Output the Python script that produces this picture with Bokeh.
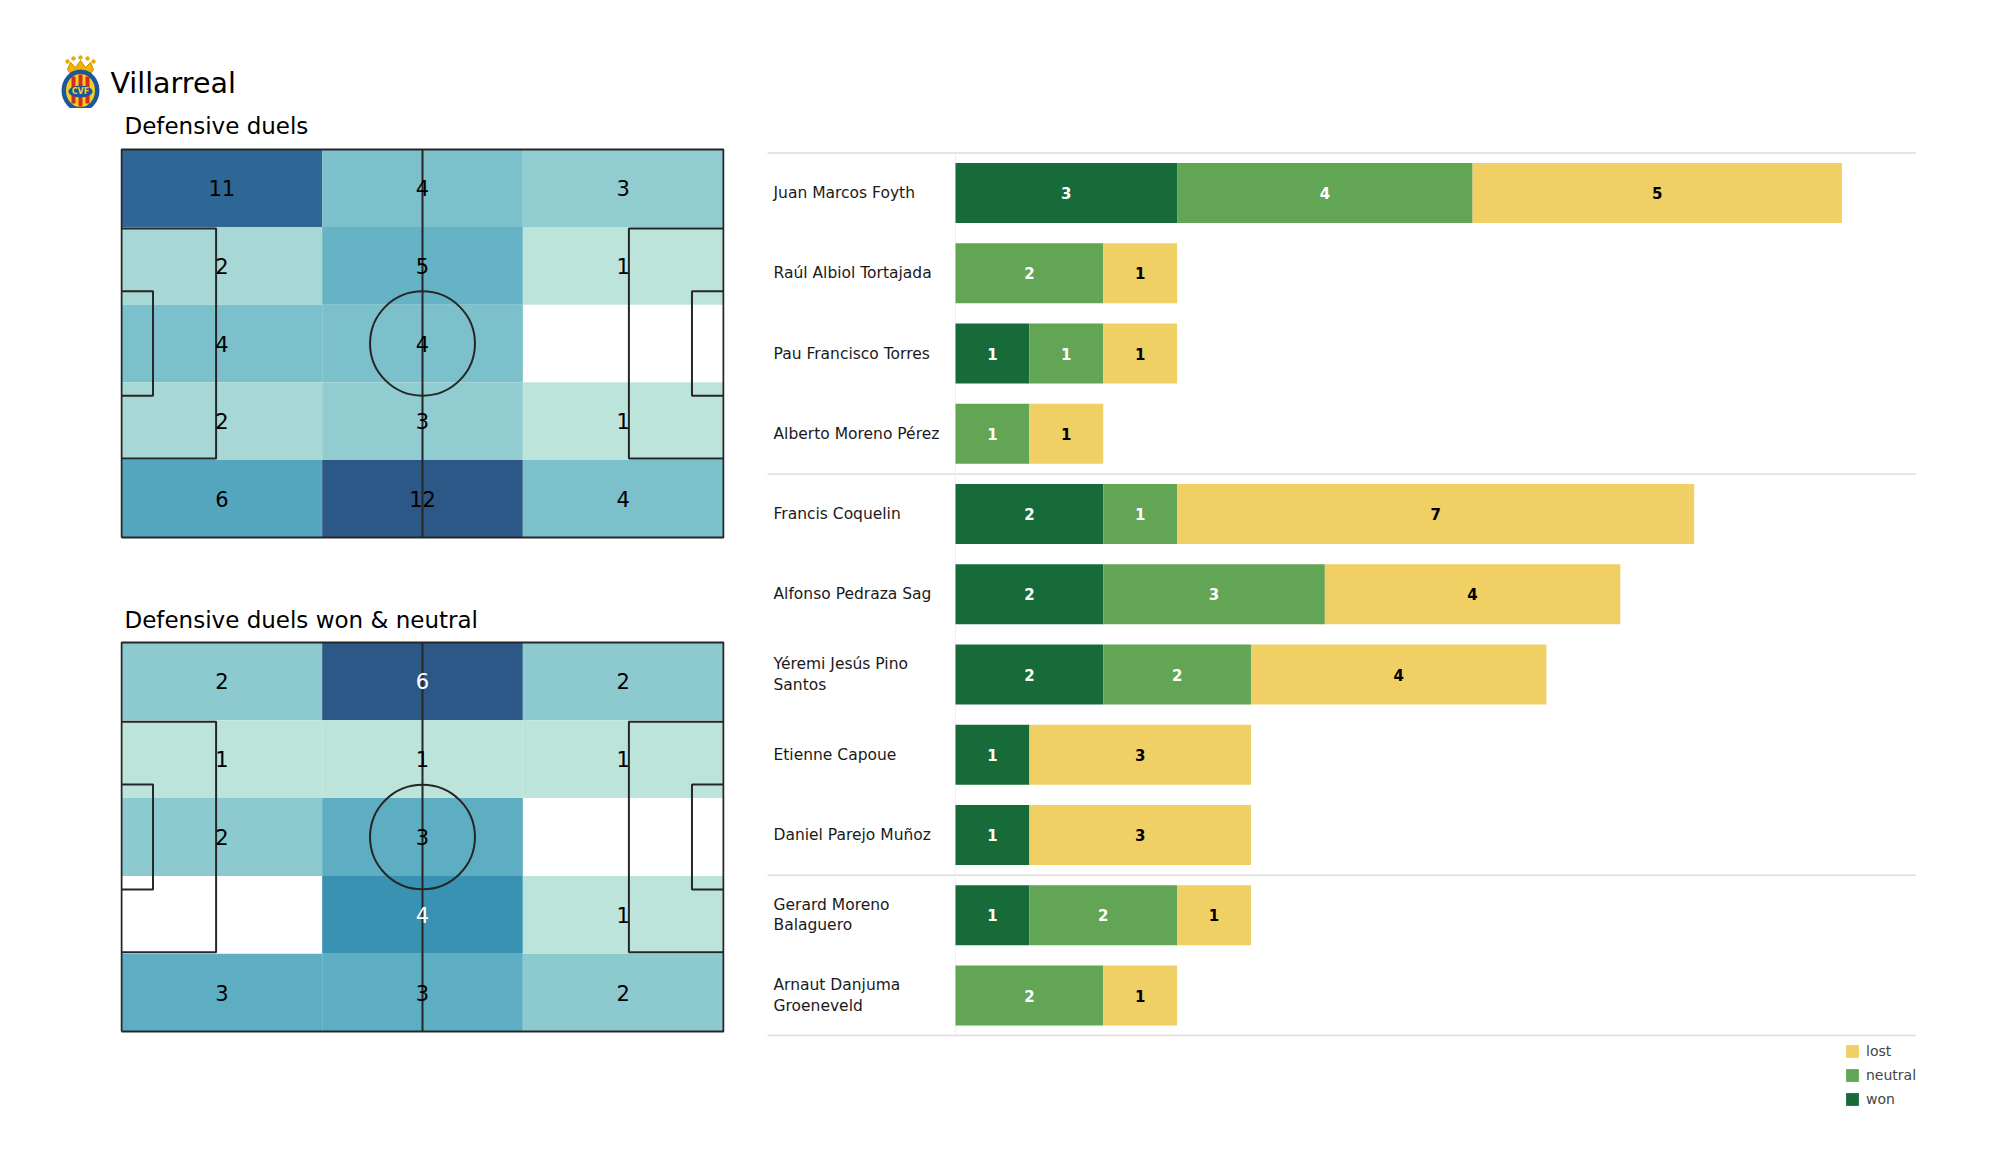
import numpy as np
from bokeh.plotting import figure
from bokeh.layouts import column, row
from bokeh.models import Range1d, Legend, LegendItem
from bokeh.core.properties import value
from bokeh.embed import file_html
from bokeh.resources import INLINE

# ---------------- data ----------------
TEAM = "Villarreal"
TITLE_ALL = "Defensive duels"
TITLE_WN = "Defensive duels won & neutral"

# heat-map grids, rows from top touchline to bottom, columns left -> right
DUELS_ALL = [[11, 4, 3],
             [2, 5, 1],
             [4, 4, 0],
             [2, 3, 1],
             [6, 12, 4]]
DUELS_WON_NEUTRAL = [[2, 6, 2],
                     [1, 1, 1],
                     [2, 3, 0],
                     [0, 4, 1],
                     [3, 3, 2]]
LABEL_COLOR_ALL = [["black"] * 3 for _ in range(5)]
LABEL_COLOR_WN = [["black", "white", "black"],
                  ["black", "black", "black"],
                  ["black", "black", "black"],
                  ["black", "white", "black"],
                  ["black", "black", "black"]]

PLAYERS = ["Juan Marcos Foyth", "Raúl Albiol Tortajada", "Pau Francisco Torres",
           "Alberto Moreno Pérez", "Francis Coquelin", "Alfonso Pedraza Sag",
           "Yéremi Jesús Pino\nSantos", "Etienne Capoue", "Daniel Parejo Muñoz",
           "Gerard Moreno\nBalaguero", "Arnaut Danjuma\nGroeneveld"]
WON = [3, 0, 1, 0, 2, 2, 2, 1, 1, 1, 0]
NEUTRAL = [4, 2, 1, 1, 1, 3, 2, 0, 0, 2, 2]
LOST = [5, 1, 1, 1, 7, 4, 4, 3, 3, 1, 1]
GROUP_SEPARATORS = [-0.5, 3.5, 8.5, 10.5]
LEGEND_ORDER = ["lost", "neutral", "won"]

# ---------------- styles ----------------
FONT = "DejaVu Sans"
C_WON, C_NEU, C_LOST = "#166b38", "#62a555", "#f0cf65"
HEAT_ANCHORS = ["#bde4db", "#8ccacf", "#5eaec3", "#3a92b3", "#3179a6", "#2b5887"]
LINE_C = "#262626"


def hex2rgb(h):
    return np.array([int(h[i:i + 2], 16) for i in (1, 3, 5)], float)


def heat_color(t):
    pos = np.linspace(0, 1, len(HEAT_ANCHORS))
    rgb = [np.interp(t, pos, [hex2rgb(c)[k] for c in HEAT_ANCHORS]) for k in range(3)]
    return "#%02x%02x%02x" % tuple(int(round(v)) for v in rgb)


def pitch_figure(title, grid, label_colors, top_px, pitch_h_px, bottom_px, title_gap_px):
    """top_px: space above the pitch (title area), bottom_px: space below it."""
    L, W = 105.0, 68.0
    ppm_y = pitch_h_px / W
    ppm_x = 602.0 / L
    height = int(round(top_px + pitch_h_px + bottom_px))
    p = figure(width=740, height=height,
               x_range=Range1d(-1 / ppm_x, L + 1 / ppm_x),
               y_range=Range1d(-bottom_px / ppm_y, W + top_px / ppm_y),
               min_border_left=120, min_border_right=16,
               min_border_top=0, min_border_bottom=0,
               x_axis_location=None, y_axis_location=None,
               output_backend="svg", toolbar_location=None)
    p.grid.visible = False
    p.outline_line_color = None

    g = np.array(grid, float)
    nz = g[g > 0]
    vmin, vmax = nz.min(), nz.max()
    nrow, ncol = g.shape
    cw, rh = L / ncol, W / nrow
    xs, ys, l, r, b, t, cols, txt, tcol = [], [], [], [], [], [], [], [], []
    for i in range(nrow):
        for j in range(ncol):
            v = g[i, j]
            if v <= 0:
                continue
            l.append(j * cw); r.append((j + 1) * cw)
            t.append(W - i * rh); b.append(W - (i + 1) * rh)
            cols.append(heat_color((v - vmin) / (vmax - vmin)))
            xs.append((j + 0.5) * cw); ys.append(W - (i + 0.5) * rh)
            txt.append(str(int(v))); tcol.append(label_colors[i][j])
    p.quad(left=l, right=r, bottom=b, top=t, fill_color=cols, line_color=None)

    # pitch markings
    lw = 2
    p.line([0, L, L, 0, 0], [0, 0, W, W, 0], line_color=LINE_C, line_width=lw)
    p.line([L / 2, L / 2], [0, W], line_color=LINE_C, line_width=lw)
    p.ellipse(x=L / 2, y=W / 2, width=18.3, height=18.3, fill_color=None,
              line_color=LINE_C, line_width=lw)
    for x0, sgn in ((0, 1), (L, -1)):
        p.line([x0, x0 + sgn * 16.5, x0 + sgn * 16.5, x0],
               [W / 2 - 20.16, W / 2 - 20.16, W / 2 + 20.16, W / 2 + 20.16],
               line_color=LINE_C, line_width=lw)
        p.line([x0, x0 + sgn * 5.5, x0 + sgn * 5.5, x0],
               [W / 2 - 9.16, W / 2 - 9.16, W / 2 + 9.16, W / 2 + 9.16],
               line_color=LINE_C, line_width=lw)

    p.text(x=xs, y=ys, text=txt, text_color=tcol, text_font=value(FONT),
           text_font_size="21px", text_align="center", text_baseline="middle")
    # panel title
    p.text(x=[3 / ppm_x], y=[W + title_gap_px / ppm_y], text=[title], text_font=value(FONT),
           text_font_size="23px", text_color="black", text_align="left",
           text_baseline="middle")
    return p


# ---------------- header ----------------
h = figure(width=1992, height=108, x_range=Range1d(0, 1992), y_range=Range1d(108, 0),
           min_border=0, x_axis_location=None, y_axis_location=None,
           output_backend="svg", toolbar_location=None)
h.grid.visible = False
h.outline_line_color = None
# simple crest
CX, CY = 80, 90
h.patch([CX - 13, CX - 10, CX - 5, CX, CX + 5, CX + 10, CX + 13, CX + 11, CX - 11],
        [CY - 21, CY - 28, CY - 23, CY - 30, CY - 23, CY - 28, CY - 21, CY - 18, CY - 18],
        fill_color="#f2b300", line_color="#c98a00", line_width=1)
h.scatter(x=[CX - 13, CX - 7, CX, CX + 7, CX + 13], y=[CY - 29, CY - 32, CY - 33, CY - 32, CY - 29],
          size=3.5, color="#e8a800")
h.ellipse(x=CX, y=CY, width=38, height=42, fill_color="#1d56a0", line_color=None)
h.ellipse(x=CX, y=CY, width=29, height=33, fill_color="#f5cf1f", line_color=None)
h.quad(left=[CX - 9, CX - 2, CX + 5], right=[CX - 5, CX + 2, CX + 9],
       bottom=[CY + 13, CY + 16, CY + 13], top=[CY - 14, CY - 16, CY - 14],
       fill_color="#d62b1e", line_color=None)
h.ellipse(x=CX, y=CY + 1, width=24, height=12, fill_color="#1d56a0", line_color=None)
h.text(x=[CX], y=[CY + 1], text=["CVF"], text_color="#f5cf1f", text_font=value(FONT),
       text_font_size="8px", text_font_style="bold", text_align="center", text_baseline="middle")
h.text(x=[110], y=[83], text=[TEAM], text_font=value(FONT), text_font_size="28.5px",
       text_color="black", text_align="left", text_baseline="middle")

# ---------------- pitches ----------------
pa = pitch_figure(TITLE_ALL, DUELS_ALL, LABEL_COLOR_ALL, 41, 388, 40, 24)
pb = pitch_figure(TITLE_WN, DUELS_WON_NEUTRAL, LABEL_COLOR_WN, 65, 389, 136, 23)

# ---------------- bar chart ----------------
UNIT_PX, ROW_PX = 73.87, 80.24
BAR0_PX, FRAME_W = 215, 1252
ROW0_PX, FRAME_H = 84.6, 1059
xr = Range1d(-BAR0_PX / UNIT_PX, (FRAME_W - BAR0_PX) / UNIT_PX)
yr = Range1d((FRAME_H - ROW0_PX) / ROW_PX, -ROW0_PX / ROW_PX)
c = figure(width=FRAME_W, height=FRAME_H, x_range=xr, y_range=yr, min_border=0,
           x_axis_location=None, y_axis_location=None,
           output_backend="svg", toolbar_location=None)
c.grid.visible = False
c.outline_line_color = None

idx = list(range(len(PLAYERS)))
won = np.array(WON, float)
neu = np.array(NEUTRAL, float)
lost = np.array(LOST, float)
line_x0, line_x1 = -188 / UNIT_PX, 13.0
c.segment(x0=line_x0, x1=line_x1, y0=GROUP_SEPARATORS, y1=GROUP_SEPARATORS,
          line_color="#dcdcdc", line_width=1.5)
c.segment(x0=[0], x1=[0], y0=[GROUP_SEPARATORS[0]], y1=[GROUP_SEPARATORS[-1]],
          line_color="#efefef", line_width=1)

bh = 0.748
r_won = c.hbar(y=idx, left=0, right=won, height=bh, fill_color=C_WON, line_color=None)
r_neu = c.hbar(y=idx, left=won, right=won + neu, height=bh, fill_color=C_NEU, line_color=None)
r_lost = c.hbar(y=idx, left=won + neu, right=won + neu + lost, height=bh,
                fill_color=C_LOST, line_color=None)

tx, ty, tt, tc = [], [], [], []
for i in idx:
    start = 0.0
    for v, col in ((won[i], "white"), (neu[i], "white"), (lost[i], "black")):
        if v > 0:
            tx.append(start + v / 2); ty.append(i); tt.append(str(int(v))); tc.append(col)
        start += v
c.text(x=tx, y=ty, text=tt, text_color=tc, text_font=value(FONT), text_font_size="15px",
       text_font_style="bold", text_align="center", text_baseline="middle")

c.text(x=[-182 / UNIT_PX] * len(PLAYERS), y=idx, text=PLAYERS, text_font=value(FONT),
       text_font_size="15.5px", text_color="#1a1a1a", text_align="left",
       text_baseline="middle", text_line_height=1.13)

renderers = {"lost": r_lost, "neutral": r_neu, "won": r_won}
legend = Legend(items=[LegendItem(label=k, renderers=[renderers[k]]) for k in LEGEND_ORDER],
                location=(1104, 60), orientation="vertical",
                glyph_width=16, glyph_height=16, label_height=16, label_width=20,
                spacing=8, padding=0, margin=0, label_standoff=6,
                label_text_font=FONT, label_text_font_size="14px",
                border_line_color=None, background_fill_alpha=0)
c.add_layout(legend)

layout = column(h, row(column(pa, pb), c))
open("out.html", "w").write(file_html(layout, INLINE))
